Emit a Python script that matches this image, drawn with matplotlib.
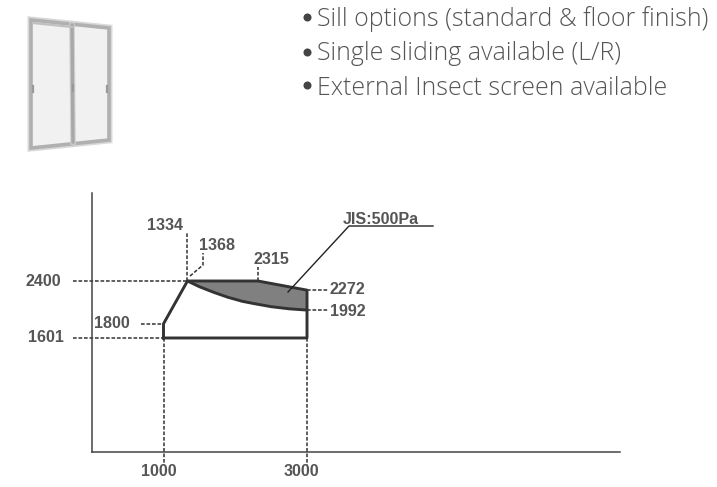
import matplotlib
matplotlib.use("Agg")
import matplotlib.pyplot as plt
from matplotlib.patches import Polygon

W, H = 717, 487

# envelope of the window, width (mm) / height (mm)
outline_x = [1000, 1000, 1334, 2315, 3000, 3000, 1000]
outline_y = [1601, 1800, 2400, 2400, 2272, 1601, 1601]

# JIS 500Pa limit curve
curve_x = [1334, 1500, 1700, 1900, 2100, 2250, 2500, 2750, 3000]
curve_y = [2400, 2320, 2241, 2171, 2115, 2085, 2040, 2010, 1992]

# shaded zone upper edge
top_x = [1334, 2315, 3000]
top_y = [2400, 2400, 2272]

features = ["Sill options (standard & floor finish)",
            "Single sliding available (L/R)",
            "External Insect screen available"]

plt.rcParams['font.family'] = ['Liberation Sans', 'DejaVu Sans']
fig = plt.figure(figsize=(W / 100, H / 100), dpi=100)
TXT = "#555555"
LINE = "#333333"

# overlay in pixel coordinates, for the photo, text and leaders
over = fig.add_axes([0, 0, 1, 1], zorder=3)
over.set_xlim(0, W)
over.set_ylim(H, 0)
over.axis("off")
over.patch.set_alpha(0)

# data axes
left, right, top, bottom = 92, 620, 193, 452
ax = fig.add_axes([left / W, 1 - bottom / H, (right - left) / W, (bottom - top) / H])
ax.set_xlim(3.5, 7362)
ax.set_ylim(2, 3634)
ax.set_xticks([])
ax.set_yticks([])
ax.spines["top"].set_visible(False)
ax.spines["right"].set_visible(False)
ax.spines["left"].set_color("#444444")
ax.spines["bottom"].set_color("#444444")
ax.spines["left"].set_linewidth(1.1)
ax.spines["bottom"].set_linewidth(1.1)

# shaded zone between top edge and curve
zone = list(zip(top_x, top_y)) + list(zip(curve_x[::-1], curve_y[::-1]))
ax.add_patch(Polygon(zone, closed=True, facecolor="#808080", edgecolor="none"))
ax.plot(outline_x, outline_y, color=LINE, lw=2.1, solid_joinstyle="round")
ax.plot(curve_x, curve_y, color=LINE, lw=2.1, solid_capstyle="round")

# dashed guides
dash = dict(color="#333333", lw=1.1, linestyle=(0, (2.4, 1.2)), clip_on=False)
ax.plot([-260, 1334], [2400, 2400], **dash)
ax.plot([-260, 1000], [1601, 1601], **dash)
ax.plot([680, 1000], [1800, 1800], **dash)
ax.plot([1000, 1000], [1601, -180], **dash)
ax.plot([3000, 3000], [1601, -180], **dash)
ax.plot([3000, 3300], [2272, 2272], **dash)
ax.plot([3000, 3300], [1992, 1992], **dash)
ax.plot([2315, 2315], [2400, 2600], **dash)
ax.plot([1334, 1334], [2400, 3085], **dash)
over.plot([190, 203, 203], [276, 265, 253], **dash)

# leader
over.plot([288, 349, 433], [292, 226, 226], color="#222222", lw=1.0)

# window photo
frame = "#b0b0b0"
corners = [(31, 20), (109, 28), (109, 140), (31, 148)]
over.add_patch(Polygon(corners, closed=True, facecolor="none", edgecolor="#d8d8d8", lw=5))
over.add_patch(Polygon(corners, closed=True, facecolor="#f1f1f1", edgecolor=frame, lw=2.6))
over.plot([72, 73], [25, 142], color="#d0d0d0", lw=4)
over.plot([72, 73], [25, 142], color="#a8a8a8", lw=2.4)
over.plot([33, 72], [23, 27], color="#c0c0c0", lw=1.6)
for hx, hy in [(33, 89), (73, 88), (107, 89)]:
    over.plot([hx, hx], [hy - 3, hy + 3], color="#999999", lw=1.6)

# feature list
for label, y, base in zip(features, [17, 52, 85], [26, 60, 95]):
    over.plot([307], [y], marker="o", ms=5.8, color="#444444", mew=0)
    over.text(317, base, label, fontsize=17.9, color="#555555", va="baseline", ha="left",
              family=["Open Sans"], fontweight="light")

# value labels
lab = dict(fontsize=11.6, fontweight="bold", color=TXT, va="center", ha="left")
over.text(26, 281, "2400", **lab)
over.text(28, 338, "1601", **lab)
over.text(94, 323, "1800", **lab)
over.text(147, 225, "1334", **lab)
over.text(199, 246, "1368", **lab)
over.text(254, 259, "2315", **lab)
over.text(330, 289, "2272", **lab)
over.text(330, 312, "1992", **lab)
over.text(343, 219, "JIS:500Pa", **lab)
over.text(159, 472, "1000", fontsize=11.6, fontweight="bold", color=TXT, va="center", ha="center")
over.text(301.5, 472, "3000", fontsize=11.6, fontweight="bold", color=TXT, va="center", ha="center")

fig.savefig("out.png", dpi=100)
